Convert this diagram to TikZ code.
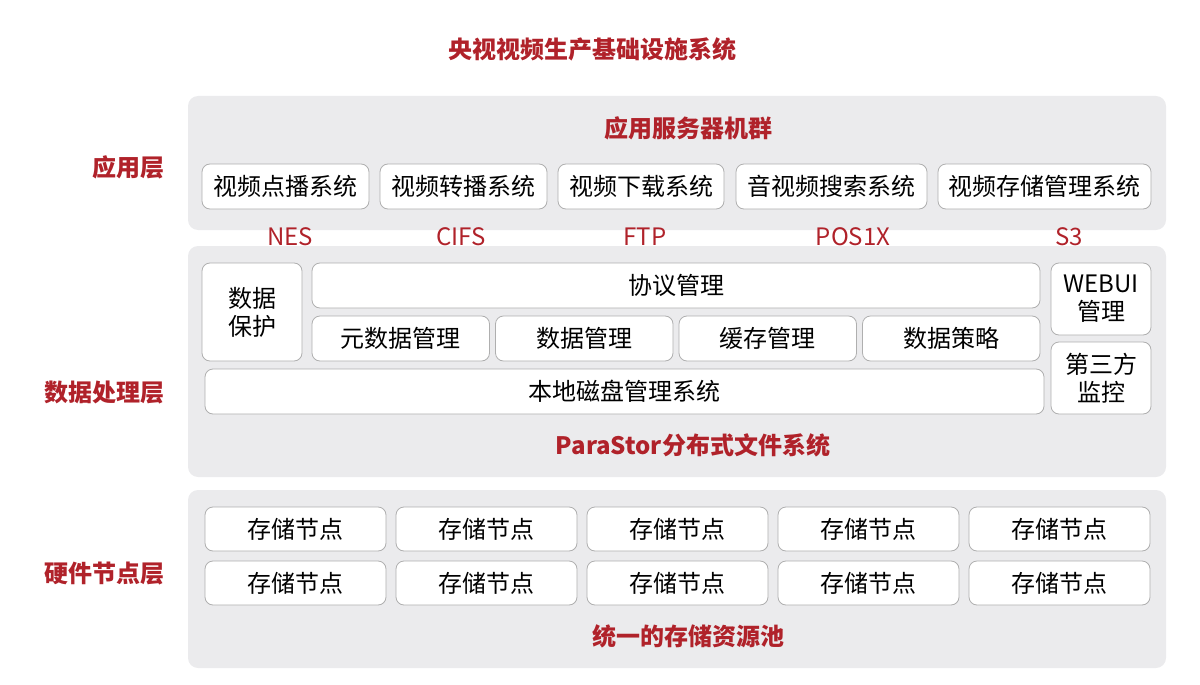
\documentclass[tikz,border=0pt]{standalone}
\usepackage{fontspec}
\setmainfont{Noto Sans CJK SC}
\definecolor{tred}{HTML}{B0222A}
\definecolor{panelgray}{HTML}{EBEBED}
\definecolor{boxgray}{HTML}{AFAFAF}
\begin{document}
\begin{tikzpicture}[x=1pt,y=-1pt,
  panel/.style={fill=panelgray, draw=none, rounded corners=10pt, inner sep=0pt},
  box/.style={draw=boxgray, fill=white, rounded corners=8pt, line width=0.8pt, inner sep=0pt, align=center, font=\fontsize{24}{28}\selectfont, text=black},
  redtitle/.style={text=tred, font=\bfseries\fontsize{24}{28}\selectfont, inner sep=0pt},
  layerlbl/.style={text=tred, font=\bfseries\fontsize{24}{28}\selectfont, inner sep=0pt, anchor=east},
  proto/.style={text=tred, font=\fontsize{24}{28}\selectfont, inner sep=0pt}]
\useasboundingbox (0,0) rectangle (1200,685);
% title
\node[redtitle] (title) at (592.5,49) {央视视频生产基础设施系统};
% panels
\node[panel, minimum width=978pt, minimum height=134pt] (papp) at (677,163) {};
\node[panel, minimum width=978pt, minimum height=231pt] (pdata) at (677,361.5) {};
\node[panel, minimum width=978pt, minimum height=178pt] (phw) at (677,579) {};
% layer labels
\node[layerlbl] (lapp) at (165,167) {应用层};
\node[layerlbl] (ldata) at (165,392) {数据处理层};
\node[layerlbl] (lhw) at (165,574) {硬件节点层};
% application layer
\node[redtitle] (appt) at (688,128) {应用服务器机群};
\node[box, minimum width=167pt, minimum height=45pt] (a1) at (285.5,186.5) {视频点播系统};
\node[box, minimum width=167pt, minimum height=45pt] (a2) at (463.5,186.5) {视频转播系统};
\node[box, minimum width=166pt, minimum height=45pt] (a3) at (641,186.5) {视频下载系统};
\node[box, minimum width=191pt, minimum height=45pt] (a4) at (831.5,186.5) {音视频搜索系统};
\node[box, minimum width=213pt, minimum height=45pt] (a5) at (1044.5,186.5) {视频存储管理系统};
% protocols
\node[proto] (nes) at (290,237) {NES};
\node[proto] (cifs) at (461,237) {CIFS};
\node[proto] (ftp) at (645,237) {FTP};
\node[proto] (posix) at (853,237) {POS1X};
\node[proto] (s3) at (1069,237) {S3};
% data layer
\node[box, minimum width=100pt, minimum height=98pt] (dprot) at (252,312) {数据\\保护};
\node[box, minimum width=728pt, minimum height=45pt] (proto) at (676,285.5) {协议管理};
\node[box, minimum width=177.5pt, minimum height=45pt] (meta) at (400.75,338.5) {元数据管理};
\node[box, minimum width=177.5pt, minimum height=45pt] (dm) at (584.25,338.5) {数据管理};
\node[box, minimum width=177.5pt, minimum height=45pt] (cache) at (767.75,338.5) {缓存管理};
\node[box, minimum width=177.5pt, minimum height=45pt] (policy) at (951.25,338.5) {数据策略};
\node[box, minimum width=839pt, minimum height=45pt] (disk) at (624.5,391.5) {本地磁盘管理系统};
\node[box, minimum width=100pt, minimum height=72pt] (webui) at (1101,299) {WEBUI\\管理};
\node[box, minimum width=100pt, minimum height=72pt] (mon) at (1101,378) {第三方\\监控};
\node[redtitle] (para) at (693,445) {ParaStor分布式文件系统};
% hardware layer
\foreach \c [count=\i] in {295.5,486.5,677.5,868.5,1059.5}{
  \node[box, minimum width=181pt, minimum height=44pt] (n1\i) at (\c,529) {存储节点};
  \node[box, minimum width=181pt, minimum height=44pt] (n2\i) at (\c,583) {存储节点};
}
\node[redtitle] (pool) at (688,636) {统一的存储资源池};
\end{tikzpicture}
\end{document}
